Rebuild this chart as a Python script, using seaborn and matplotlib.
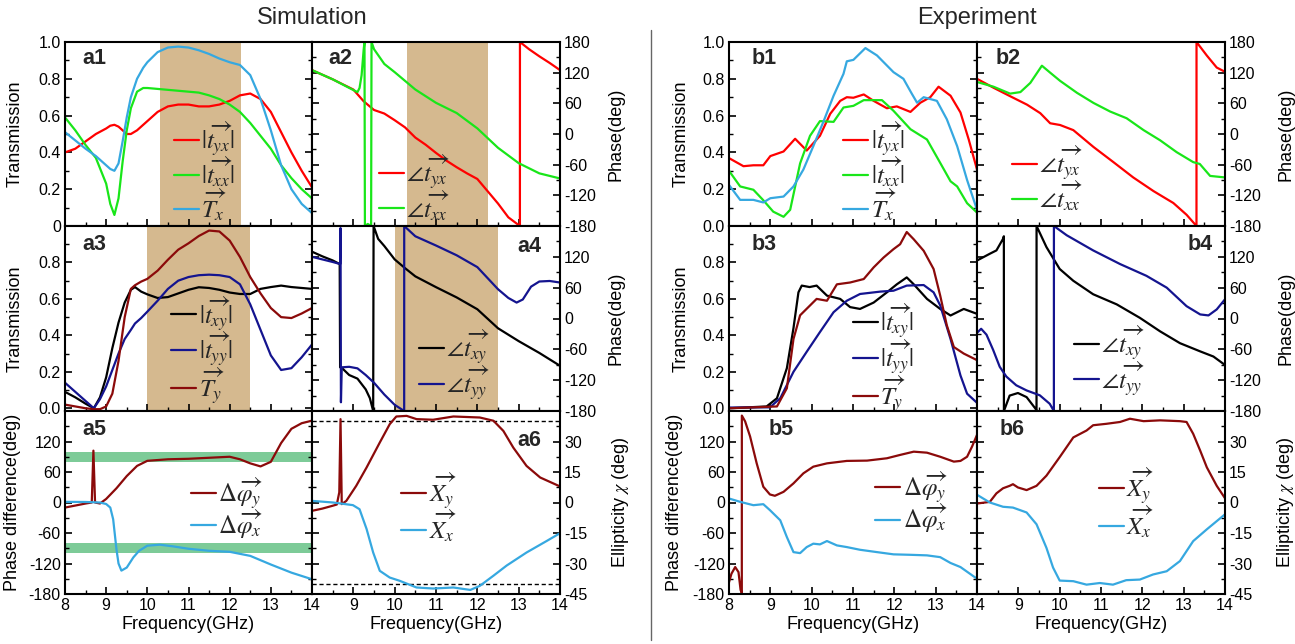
import numpy as np
import matplotlib
matplotlib.use("Agg")
import matplotlib.pyplot as plt
from matplotlib.lines import Line2D
from matplotlib.ticker import MultipleLocator, FixedLocator
import seaborn as sns

sns.set_theme(style="white")
plt.rcParams['font.family'] = ['Liberation Sans', 'DejaVu Sans']
plt.rcParams['mathtext.fontset'] = 'stix'

# ---------------- data: Simulation ----------------
a1_f = [8.0, 8.25, 8.5, 8.75, 9.0, 9.1, 9.2, 9.3, 9.4, 9.5, 9.6, 9.75, 9.9, 10.0, 10.25, 10.5, 10.75,
        11.0, 11.25, 11.5, 11.75, 12.0, 12.25, 12.5, 12.75, 13.0, 13.25, 13.5, 13.75, 14.0]
a1_tyx = [0.40, 0.42, 0.46, 0.50, 0.53, 0.545, 0.55, 0.54, 0.52, 0.50, 0.50, 0.52, 0.55, 0.57, 0.62, 0.65, 0.66,
          0.66, 0.65, 0.65, 0.66, 0.68, 0.71, 0.72, 0.69, 0.62, 0.51, 0.40, 0.30, 0.21]
a1_txx = [0.59, 0.52, 0.44, 0.37, 0.23, 0.12, 0.06, 0.15, 0.35, 0.52, 0.64, 0.73, 0.75, 0.75, 0.745, 0.74, 0.735,
          0.73, 0.725, 0.71, 0.69, 0.66, 0.62, 0.56, 0.49, 0.42, 0.33, 0.26, 0.20, 0.15]
a1_Tx = [0.51, 0.465, 0.42, 0.38, 0.33, 0.31, 0.30, 0.34, 0.46, 0.59, 0.70, 0.80, 0.86, 0.89, 0.945, 0.97, 0.975,
         0.97, 0.955, 0.935, 0.91, 0.89, 0.875, 0.82, 0.69, 0.52, 0.33, 0.20, 0.12, 0.07]

a2_tyx_f = [8.0, 8.5, 9.0, 9.25, 9.5, 9.75, 10.0, 10.25, 10.5, 10.75, 11.0, 11.25, 11.5, 11.75, 12.0, 12.25,
            12.5, 12.75, 13.03, 13.031, 13.25, 13.5, 13.75, 14.0]
a2_tyx = [125, 107, 87, 64, 47, 40, 27, 13, -7, -21, -37, -52, -65, -77, -88, -112,
          -136, -163, -180, 180, 166, 152, 139, 125]
a2_txx_f = [8.0, 8.5, 9.0, 9.1, 9.15, 9.2, 9.25, 9.27, 9.28, 9.35, 9.43, 9.44, 9.5, 9.75, 10.0, 10.5, 11.0,
            11.5, 12.0, 12.25, 12.5, 12.75, 13.0, 13.5, 14.0]
a2_txx = [125, 107, 86, 82, 90, 115, 165, 180, -180, -176, -180, 180, 166, 137, 121, 87, 61,
          41, 11, -8, -27, -42, -57, -77, -87]

a3_f = [8.0, 8.25, 8.5, 8.7, 8.85, 9.0, 9.15, 9.3, 9.45, 9.6, 9.7, 9.85, 10.0, 10.25, 10.5, 10.75, 11.0,
        11.25, 11.5, 11.75, 12.0, 12.25, 12.5, 12.75, 13.0, 13.25, 13.5, 13.75, 14.0]
a3_txy = [0.09, 0.06, 0.025, 0.0, 0.06, 0.17, 0.33, 0.47, 0.58, 0.65, 0.665, 0.64, 0.625, 0.605, 0.61, 0.63, 0.65,
          0.664, 0.66, 0.65, 0.635, 0.627, 0.627, 0.655, 0.665, 0.673, 0.665, 0.66, 0.655]
a3_tyy = [0.14, 0.09, 0.04, 0.0, 0.05, 0.12, 0.21, 0.30, 0.38, 0.43, 0.465, 0.495, 0.53, 0.59, 0.655, 0.70, 0.72,
          0.73, 0.733, 0.73, 0.72, 0.68, 0.57, 0.43, 0.29, 0.21, 0.22, 0.28, 0.35]
a3_Ty = [0.02, 0.01, 0.0, -0.005, -0.005, 0.01, 0.08, 0.26, 0.50, 0.655, 0.675, 0.695, 0.71, 0.755, 0.815, 0.87,
         0.905, 0.945, 0.975, 0.97, 0.92, 0.83, 0.72, 0.63, 0.55, 0.50, 0.495, 0.52, 0.55]

a4_txy_f = [8.0, 8.25, 8.5, 8.67, 8.68, 8.72, 8.9, 9.1, 9.3, 9.4, 9.48, 9.49, 9.6, 9.75, 10.0, 10.25, 10.5,
            11.0, 11.5, 12.0, 12.5, 13.0, 13.5, 14.0]
a4_txy = [130, 121, 113, 106, -95, -96, -110, -117, -138, -155, -180, 180, 155, 141, 115, 98, 82,
          61, 41, 18, -19, -44, -67, -92]
a4_tyy_f = [8.0, 8.25, 8.5, 8.68, 8.69, 8.70, 8.72, 8.9, 9.1, 9.3, 9.5, 9.75, 10.0, 10.23, 10.231, 10.5, 11.0,
            11.5, 12.0, 12.5, 12.75, 12.95, 13.1, 13.3, 13.5, 13.75, 14.0]
a4_tyy = [120, 115, 110, 106, 176, -163, -95, -94, -97, -110, -125, -148, -168, -180, 180, 160, 142,
          123, 100, 57, 40, 31, 37, 62, 72, 73, 70]

a5_dy_f = [8.0, 8.25, 8.5, 8.65, 8.69, 8.73, 8.85, 9.0, 9.25, 9.5, 9.75, 10.0, 10.5, 11.0, 11.5, 12.0, 12.25,
           12.5, 12.75, 13.0, 13.25, 13.5, 13.75, 14.0]
a5_dy = [-10, -6, -2, 0, 102, 0, -2, 7, 28, 52, 72, 82, 85, 86, 88, 90, 85,
         77, 71, 80, 117, 145, 156, 161]
a5_dx_f = [8.0, 8.5, 8.85, 9.0, 9.1, 9.17, 9.25, 9.3, 9.37, 9.5, 9.66, 9.8, 10.0, 10.3, 10.6, 11.0, 11.5,
           12.0, 12.5, 13.0, 13.5, 14.0]
a5_dx = [1.3, 1, 0, -3, -10, -33, -92, -120, -134, -128, -108, -95, -85, -83, -86, -91, -95,
         -97, -105, -122, -138, -151]

a6_xy_f = [8.0, 8.25, 8.5, 8.6, 8.66, 8.69, 8.72, 8.83, 9.07, 9.32, 9.64, 9.88, 10.04, 10.29, 10.53, 10.93,
           11.42, 12.06, 12.39, 12.63, 12.87, 13.19, 13.52, 14.0]
a6_xy = [-4.1, -3.0, -1.6, -1.0, 5, 41, -0.8, 0.8, 8.2, 17.2, 29.5, 38.5, 42.3, 42.6, 41, 40.7,
         42.3, 41.8, 40.2, 35.2, 27, 18, 12.3, 7.9]
a6_xx_f = [8.0, 8.51, 8.99, 9.15, 9.32, 9.48, 9.64, 9.88, 10.12, 10.53, 10.93, 11.42, 11.83, 12.06, 12.39,
           12.71, 13.19, 13.68, 14.0]
a6_xx = [0.8, 0, -1.3, -3.3, -13, -24.6, -33.6, -36.9, -38.5, -41.8, -42.3, -41.8, -43, -41, -36,
         -31, -24.6, -18.9, -15.1]

# ---------------- data: Experiment ----------------
b1_tyx_f = [8.0, 8.35, 8.59, 8.83, 9.0, 9.32, 9.6, 9.88, 10.2, 10.45, 10.69, 10.85, 11.01, 11.26, 11.5, 11.82,
            12.06, 12.39, 12.63, 12.87, 13.07, 13.36, 13.6, 13.8, 14.0]
b1_tyx = [0.369, 0.325, 0.33, 0.33, 0.38, 0.405, 0.474, 0.41, 0.49, 0.61, 0.68, 0.70, 0.697, 0.715, 0.68, 0.64,
          0.65, 0.62, 0.67, 0.70, 0.757, 0.708, 0.617, 0.47, 0.307]
b1_txx_f = [8.0, 8.27, 8.59, 8.83, 9.07, 9.32, 9.48, 9.72, 9.96, 10.2, 10.53, 10.77, 11.01, 11.26, 11.7, 11.98,
            12.39, 12.79, 13.11, 13.36, 13.52, 13.76, 14.0]
b1_txx = [0.30, 0.215, 0.197, 0.14, 0.078, 0.05, 0.088, 0.34, 0.49, 0.57, 0.566, 0.644, 0.653, 0.684, 0.684, 0.626,
          0.526, 0.47, 0.343, 0.243, 0.215, 0.124, 0.073]
b1_Tx_f = [8.0, 8.27, 8.59, 8.83, 9.0, 9.32, 9.56, 9.8, 10.04, 10.29, 10.53, 10.77, 10.85, 11.01, 11.3, 11.58,
           11.98, 12.22, 12.42, 12.55, 12.71, 13.03, 13.27, 13.52, 13.76, 14.0]
b1_Tx = [0.223, 0.142, 0.142, 0.128, 0.151, 0.16, 0.215, 0.307, 0.434, 0.57, 0.708, 0.827, 0.895, 0.903, 0.967,
         0.927, 0.836, 0.80, 0.72, 0.67, 0.70, 0.68, 0.58, 0.434, 0.25, 0.088]

b2_tyx_f = [8.0, 8.4, 8.8, 9.21, 9.53, 9.77, 10.01, 10.33, 10.82, 11.3, 11.78, 12.27, 12.75, 13.07, 13.31, 13.311,
            13.56, 13.8, 14.0]
b2_tyx = [108, 90.5, 74, 57.4, 40.8, 21, 17.6, 7.6, -25.5, -55, -85, -111.7, -135, -158, -180, 180,
          153.5, 130, 121.7]
b2_txx_f = [8.0, 8.4, 8.8, 9.05, 9.29, 9.57, 9.77, 10.01, 10.42, 10.82, 11.22, 11.62, 12.03, 12.43, 12.83, 13.23,
            13.39, 13.64, 14.0]
b2_txx = [101.8, 92.5, 79, 82, 100, 133.6, 120, 104, 80.5, 60.7, 44, 30.8, 7.6, -12.3, -35.5, -55,
          -58.6, -82, -85]

b3_txy_f = [8.0, 8.91, 9.16, 9.4, 9.56, 9.68, 9.76, 9.95, 10.12, 10.37, 10.69, 10.93, 11.17, 11.5, 11.82, 12.06,
            12.3, 12.47, 12.79, 13.11, 13.36, 13.68, 14.0]
b3_txy = [0.0, 0.01, 0.055, 0.22, 0.44, 0.636, 0.673, 0.665, 0.673, 0.618, 0.60, 0.555, 0.545, 0.58, 0.636, 0.68,
          0.718, 0.68, 0.60, 0.545, 0.509, 0.545, 0.518]
b3_tyy_f = [8.0, 8.99, 9.24, 9.56, 9.88, 10.2, 10.53, 10.85, 11.17, 11.66, 11.98, 12.3, 12.71, 12.95, 13.11,
            13.36, 13.6, 13.76, 14.0]
b3_tyy = [0.004, 0.005, 0.055, 0.2, 0.31, 0.418, 0.527, 0.59, 0.627, 0.64, 0.645, 0.673, 0.676, 0.636, 0.564,
          0.38, 0.18, 0.08, 0.03]
b3_Ty_f = [8.0, 9.16, 9.4, 9.56, 9.72, 9.96, 10.12, 10.37, 10.61, 10.93, 11.26, 11.5, 11.74, 11.98, 12.14, 12.3,
           12.47, 12.71, 12.95, 13.11, 13.27, 13.44, 13.68, 14.0]
b3_Ty = [0.0, 0.01, 0.11, 0.38, 0.51, 0.564, 0.60, 0.59, 0.68, 0.69, 0.709, 0.773, 0.827, 0.873, 0.90, 0.967,
         0.927, 0.864, 0.764, 0.618, 0.455, 0.336, 0.30, 0.264]

b4_txy_f = [8.0, 8.31, 8.47, 8.63, 8.65, 8.651, 8.79, 8.99, 9.2, 9.42, 9.44, 9.441, 9.68, 10.0, 10.33, 10.81,
            11.38, 11.94, 12.43, 12.91, 13.4, 13.72, 14.0]
b4_txy = [112.8, 126, 132.5, 155, 160, -180, -150, -145, -153, -176, -180, 180, 139, 96.4, 73.4, 47.2,
          27.5, 1.3, -25, -48, -64, -74, -90.5]
b4_tyy_f = [8.0, 8.1, 8.23, 8.39, 8.55, 8.71, 8.95, 9.2, 9.52, 9.76, 9.86, 9.861, 10.17, 10.81, 11.46, 12.1,
            12.59, 13.07, 13.4, 13.6, 13.8, 14.0]
b4_tyy = [-28, -20, -31.5, -61, -94, -113, -130, -140, -149.5, -166, -180, 180, 162, 132.5, 106, 83,
          60, 24, 7.9, 6, 17.7, 37.4]

b5_dy_f = [8.0, 8.06, 8.15, 8.23, 8.28, 8.31, 8.311, 8.39, 8.51, 8.67, 8.83, 8.99, 9.11, 9.32, 9.56, 9.8, 10.04,
           10.37, 10.85, 11.34, 11.82, 12.14, 12.47, 12.79, 13.11, 13.44, 13.6, 13.76, 13.88, 14.0]
b5_dy = [-157, -140, -127, -137, -172, -178, 171, 159.6, 130, 77, 31, 15.8, 13.2, 21, 37.6, 57.4, 70.5,
         77, 81.8, 82.4, 87, 93.6, 100, 98, 90, 80.4, 81.8, 90, 110, 133]
b5_dx_f = [8.0, 8.27, 8.59, 8.83, 8.99, 9.24, 9.4, 9.56, 9.72, 9.88, 10.04, 10.2, 10.37, 10.61, 10.85, 11.17,
           11.58, 11.98, 12.39, 12.79, 13.11, 13.36, 13.6, 14.0]
b5_dx = [7.9, 1.3, -5.3, -3.3, -15, -35, -68, -97.6, -99.6, -87.7, -81, -82.4, -75.8, -84.4, -87.7, -93,
         -97.6, -102, -102.9, -104, -107.5, -119, -127, -150]

b6_xy_f = [8.0, 8.31, 8.47, 8.63, 8.79, 8.87, 8.99, 9.2, 9.44, 9.68, 10.0, 10.33, 10.65, 10.81, 11.13, 11.46,
           11.7, 12.03, 12.43, 12.91, 13.07, 13.23, 13.4, 13.56, 13.8, 14.0]
b6_xy = [-0.5, 0.3, 4.5, 7, 8.2, 9, 7.4, 6.1, 8.2, 13.2, 22.3, 32, 35.4, 38, 38.7, 39.6,
         41.2, 40, 40.4, 40, 39.6, 33.8, 25.5, 17.3, 8.2, 2.1]
b6_xx_f = [8.0, 8.31, 8.63, 8.87, 9.2, 9.44, 9.68, 9.84, 10.0, 10.33, 10.65, 10.97, 11.29, 11.61, 11.94, 12.26,
           12.59, 12.91, 13.23, 13.56, 14.0]
b6_xx = [3.8, 0, -2.1, -2.5, -4.9, -10.7, -22.3, -32, -38.4, -38.7, -40.4, -39.6, -40.4, -38.2, -37.9, -35.4,
         -33.8, -28.8, -19, -13.2, -5.8]

# shaded bands / reference levels
band_a12 = (10.3, 12.27)
band_a34 = (10.0, 12.5)
band_a5 = [(80, 100), (-100, -80)]
ref_a6 = [40, -40]

# ---------------- styling ----------------
RED = '#FF0000'
GREEN = '#19E619'
LBLUE = '#36A8E0'
DRED = '#8B0A0A'
NAVY = '#14148F'
BLACK = '#000000'
TAN = '#D5B98F'
GBAND = '#7DCB98'

W, H = 1295, 644
fig = plt.figure(figsize=(W / 100, H / 100), dpi=100)


def rect(x0, x1, yt, yb):
    return [x0 / W, 1 - yb / H, (x1 - x0) / W, (yb - yt) / H]


rows = [(42, 226), (226, 411), (411, 594)]
colsA = [(65, 312), (312, 560)]
colsB = [(729, 977), (977, 1225)]


def make_ax(col, row):
    return fig.add_axes(rect(col[0], col[1], row[0], row[1]))


def style(ax, side, ylim, yticks, ylabels, yminor, ylabel, lab_x, xlab_mode):
    ax.set_xlim(8, 14)
    ax.set_ylim(*ylim)
    ax.xaxis.set_major_locator(FixedLocator([8, 9, 10, 11, 12, 13, 14]))
    ax.xaxis.set_minor_locator(MultipleLocator(0.5))
    ax.yaxis.set_major_locator(FixedLocator(yticks))
    ax.set_yticklabels(ylabels)
    ax.yaxis.set_minor_locator(MultipleLocator(yminor))
    for s in ax.spines.values():
        s.set_color('black')
        s.set_linewidth(1.5)
    ax.tick_params(axis='both', which='both', direction='in', colors='black',
                   left=True, right=True, bottom=True, top=False, labelsize=11.5, pad=3)
    ax.tick_params(which='major', length=5, width=1.2)
    ax.tick_params(which='minor', length=3, width=1.0)
    if side == 'left':
        ax.tick_params(labelleft=True, labelright=False)
    else:
        ax.tick_params(labelleft=False, labelright=True)
        ax.yaxis.set_label_position('right')
    ax.set_ylabel(ylabel, fontsize=13, color='black')
    ax.yaxis.set_label_coords(lab_x, 0.5)
    if xlab_mode is None:
        ax.tick_params(labelbottom=False)
        ax.set_xlabel('')
    else:
        labs = ['8', '9', '10', '11', '12', '13', '14']
        if xlab_mode == 'no8':
            labs[0] = ''
        ax.set_xticklabels(labs)
        ax.set_xlabel('Frequency(GHz)', fontsize=13, color='black', labelpad=2)
    ax.grid(False)


def line(ax, f, v, color, label):
    sns.lineplot(x=f, y=v, ax=ax, color=color, linewidth=1.6, estimator=None, sort=False, label=label)


def legend(ax, x, y):
    ax.legend(loc='center left', bbox_to_anchor=(x, y), frameon=False, fontsize=18,
              handlelength=1.0, handletextpad=0.1, labelspacing=-0.12, borderpad=0, borderaxespad=0)


def tag(ax, text, x, y):
    ax.text(x, y, text, transform=ax.transAxes, fontsize=15.5, fontweight='bold', ha='left', va='center')


L_tyx = r'$|\overrightarrow{t_{yx}}|$'
L_txx = r'$|\overrightarrow{t_{xx}}|$'
L_Tx = r'$\overrightarrow{T_x}$'
L_txy = r'$|\overrightarrow{t_{xy}}|$'
L_tyy = r'$|\overrightarrow{t_{yy}}|$'
L_Ty = r'$\overrightarrow{T_y}$'
P_tyx = r'$\angle\overrightarrow{t_{yx}}$'
P_txx = r'$\angle\overrightarrow{t_{xx}}$'
P_txy = r'$\angle\overrightarrow{t_{xy}}$'
P_tyy = r'$\angle\overrightarrow{t_{yy}}$'
D_y = r'$\Delta\overrightarrow{\varphi_y}$'
D_x = r'$\Delta\overrightarrow{\varphi_x}$'
X_y = r'$\overrightarrow{X_y}$'
X_x = r'$\overrightarrow{X_x}$'

t_ticks = [0, 0.2, 0.4, 0.6, 0.8, 1.0]
p_ticks = [-180, -120, -60, 0, 60, 120, 180]
e_ticks = [-45, -30, -15, 0, 15, 30, 45]
p_labels = [str(v) for v in p_ticks]
p_labels_notop = p_labels[:-1] + ['']
e_labels_notop = [str(v) for v in e_ticks][:-1] + ['']
t_lab_top = ['0', '0.2', '0.4', '0.6', '0.8', '1.0']
t_lab_top_b = ['0.0', '0.2', '0.4', '0.6', '0.8', '1.0']
t_lab_mid = ['0.0', '0.2', '0.4', '0.6', '0.8', '']


def panel_group(cols, D, exp):
    ax = make_ax(cols[0], rows[0])
    if not exp:
        ax.axvspan(*band_a12, color=TAN, lw=0, zorder=0)
    for f, v, c, l in D['r1l']:
        line(ax, f, v, c, l)
    style(ax, 'left', (0, 1.0), t_ticks, t_lab_top_b if exp else t_lab_top, 0.1, 'Transmission',
          -0.157 if exp else -0.166, None)
    legend(ax, *D['leg'][0])
    tag(ax, D['tags'][0][0], *D['tags'][0][1])

    ax = make_ax(cols[1], rows[0])
    if not exp:
        ax.axvspan(*band_a12, color=TAN, lw=0, zorder=0)
    for f, v, c, l in D['r1r']:
        line(ax, f, v, c, l)
    style(ax, 'right', (-180, 180), p_ticks, p_labels, 30, 'Phase(deg)', 1.21 if exp else 1.19, None)
    legend(ax, *D['leg'][1])
    tag(ax, D['tags'][1][0], *D['tags'][1][1])

    ax = make_ax(cols[0], rows[1])
    if not exp:
        ax.axvspan(*band_a34, color=TAN, lw=0, zorder=0)
    for f, v, c, l in D['r2l']:
        line(ax, f, v, c, l)
    style(ax, 'left', (-0.015, 1.0), t_ticks, t_lab_mid, 0.1, 'Transmission',
          -0.157 if exp else -0.166, None)
    legend(ax, *D['leg'][2])
    tag(ax, D['tags'][2][0], *D['tags'][2][1])

    ax = make_ax(cols[1], rows[1])
    if not exp:
        ax.axvspan(*band_a34, color=TAN, lw=0, zorder=0)
    for f, v, c, l in D['r2r']:
        line(ax, f, v, c, l)
    style(ax, 'right', (-180, 180), p_ticks, p_labels_notop, 30, 'Phase(deg)', 1.21 if exp else 1.19, None)
    legend(ax, *D['leg'][3])
    tag(ax, D['tags'][3][0], *D['tags'][3][1])

    ax = make_ax(cols[0], rows[2])
    if not exp:
        for lo, hi in band_a5:
            ax.axhspan(lo, hi, color=GBAND, lw=0, zorder=0)
    for f, v, c, l in D['r3l']:
        line(ax, f, v, c, l)
    style(ax, 'left', (-180, 180), p_ticks, p_labels_notop, 30, 'Phase difference(deg)',
          -0.185 if exp else -0.18, 'all')
    legend(ax, *D['leg'][4])
    tag(ax, D['tags'][4][0], *D['tags'][4][1])

    ax = make_ax(cols[1], rows[2])
    if not exp:
        for r in ref_a6:
            ax.axhline(r, color='black', lw=1.0, ls=(0, (3, 2)), zorder=1)
    for f, v, c, l in D['r3r']:
        line(ax, f, v, c, l)
    style(ax, 'right', (-45, 45), e_ticks, e_labels_notop, 7.5, r'Ellipticity $\chi$ (deg)',
          1.20, 'no8')
    legend(ax, *D['leg'][5])
    tag(ax, D['tags'][5][0], *D['tags'][5][1])


SIM = dict(
    r1l=[(a1_f, a1_tyx, RED, L_tyx), (a1_f, a1_txx, GREEN, L_txx), (a1_f, a1_Tx, LBLUE, L_Tx)],
    r1r=[(a2_tyx_f, a2_tyx, RED, P_tyx), (a2_txx_f, a2_txx, GREEN, P_txx)],
    r2l=[(a3_f, a3_txy, BLACK, L_txy), (a3_f, a3_tyy, NAVY, L_tyy), (a3_f, a3_Ty, DRED, L_Ty)],
    r2r=[(a4_txy_f, a4_txy, BLACK, P_txy), (a4_tyy_f, a4_tyy, NAVY, P_tyy)],
    r3l=[(a5_dy_f, a5_dy, DRED, D_y), (a5_dx_f, a5_dx, LBLUE, D_x)],
    r3r=[(a6_xy_f, a6_xy, DRED, X_y), (a6_xx_f, a6_xx, LBLUE, X_x)],
    leg=[(0.44, 0.30), (0.27, 0.21), (0.43, 0.33), (0.43, 0.25), (0.51, 0.47), (0.36, 0.475)],
    tags=[('a1', (0.07, 0.91)), ('a2', (0.065, 0.91)), ('a3', (0.07, 0.90)), ('a4', (0.83, 0.89)),
          ('a5', (0.07, 0.90)), ('a6', (0.83, 0.84))],
)
EXP = dict(
    r1l=[(b1_tyx_f, b1_tyx, RED, L_tyx), (b1_txx_f, b1_txx, GREEN, L_txx), (b1_Tx_f, b1_Tx, LBLUE, L_Tx)],
    r1r=[(b2_tyx_f, b2_tyx, RED, P_tyx), (b2_txx_f, b2_txx, GREEN, P_txx)],
    r2l=[(b3_txy_f, b3_txy, BLACK, L_txy), (b3_tyy_f, b3_tyy, NAVY, L_tyy), (b3_Ty_f, b3_Ty, DRED, L_Ty)],
    r2r=[(b4_txy_f, b4_txy, BLACK, P_txy), (b4_tyy_f, b4_tyy, NAVY, P_tyy)],
    r3l=[(b5_dy_f, b5_dy, DRED, D_y), (b5_dx_f, b5_dx, LBLUE, D_x)],
    r3r=[(b6_xy_f, b6_xy, DRED, X_y), (b6_xx_f, b6_xx, LBLUE, X_x)],
    leg=[(0.46, 0.30), (0.14, 0.26), (0.50, 0.29), (0.39, 0.275), (0.59, 0.50), (0.49, 0.50)],
    tags=[('b1', (0.09, 0.91)), ('b2', (0.075, 0.91)), ('b3', (0.09, 0.90)), ('b4', (0.85, 0.90)),
          ('b5', (0.16, 0.90)), ('b6', (0.09, 0.90))],
)

panel_group(colsA, SIM, False)
panel_group(colsB, EXP, True)

fig.text(312 / W, 1 - 18 / H, 'Simulation', ha='center', va='center', fontsize=17)
fig.text(977 / W, 1 - 18 / H, 'Experiment', ha='center', va='center', fontsize=17)
fig.add_artist(Line2D([651 / W, 651 / W], [1 - 30 / H, 1 - 640 / H], transform=fig.transFigure,
                      color='#666666', lw=1.0))

fig.savefig('out.png', dpi=100, facecolor='white')
